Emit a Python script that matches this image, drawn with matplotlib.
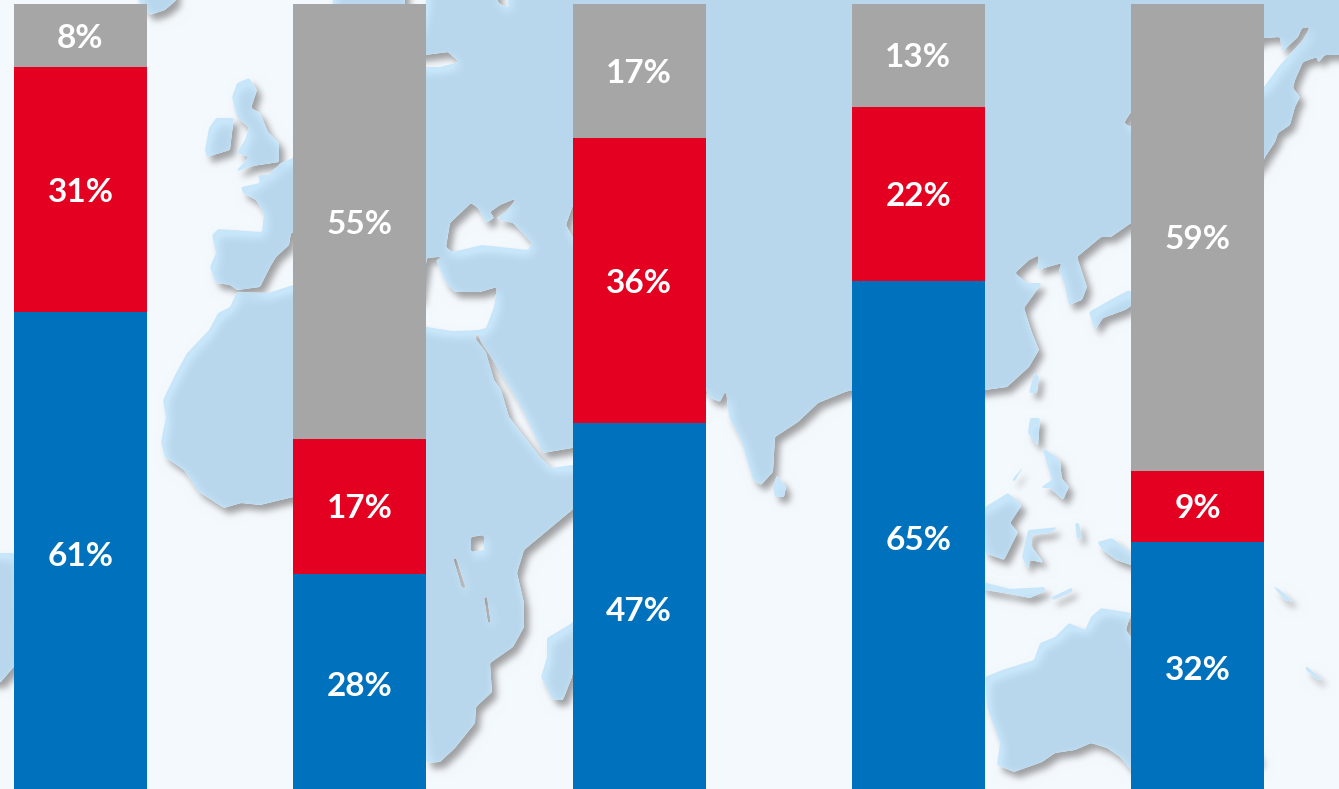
import numpy as np
import matplotlib
matplotlib.use('Agg')
import matplotlib.pyplot as plt

W, H = 1339, 789
DPI = 100

# values of the stacked bars, percent
blue = [61, 28, 47, 65, 32]
red = [31, 17, 36, 22, 9]
grey = [8, 55, 17, 13, 59]

# ---- background map, traced in image pixels (decoration only) ----
land = [
    # Eurasia
    [(335, -9), (1348, -9), (1348, 55), (1325, 55), (1318, 63), (1317, 57), (1303, 62), (1295, 80), (1293, 88),
     (1300, 97), (1295, 107), (1290, 125), (1278, 133), (1275, 142), (1265, 157), (1264, 160), (1200, 240),
     (1131, 223),
     (1111, 237), (1101, 237), (1077, 257), (1087, 287), (1082, 300), (1069, 305), (1064, 283), (1059, 270),
     (1062, 263), (1037, 270), (1039, 255), (1029, 260), (1015, 273), (1027, 283), (1042, 283), (1024, 308),
     (1032, 333), (1039, 350), (1029, 367), (1007, 387), (985, 390), (920, 400), (852, 390), (845, 392),
     (818, 403), (798, 422), (775, 437), (773, 472), (761, 485), (753, 480), (741, 440), (729, 417), (726, 390),
     (720, 402), (708, 397), (706, 388), (640, 390), (620, 440), (572, 448), (543, 453), (524, 413), (513, 393),
     (497, 367), (488, 352), (480, 340), (478, 330), (486, 328), (494, 307), (497, 287), (480, 292), (455, 292),
     (446, 283), (436, 260), (448, 256), (427, 258), (420, 300), (380, 300), (350, 270), (293, 232), (291, 233),
     (289, 245), (276, 257), (270, 267), (260, 287), (237, 290), (230, 285), (216, 283), (210, 267), (216, 253),
     (212, 235), (218, 229), (262, 232), (264, 213), (256, 200), (243, 193), (241, 187), (260, 183), (258, 175),
     (268, 175), (281, 163), (293, 158), (320, 60)],
    # Africa
    [(293, 285), (268, 293), (237, 292), (230, 307), (218, 313), (209, 330), (187, 353), (176, 373), (163, 400),
     (166, 417), (161, 442), (165, 457), (184, 470), (199, 492), (224, 508), (241, 503), (260, 505), (293, 497),
     (340, 520), (400, 600), (427, 763), (440, 762), (455, 748), (475, 723), (476, 707), (492, 692), (490, 663),
     (513, 647), (524, 627), (524, 603), (517, 573), (524, 550), (572, 510), (600, 470), (572, 465), (551, 468),
     (540, 457), (509, 417), (501, 390), (494, 380), (486, 353), (475, 338), (480, 330), (452, 331), (427, 327),
     (360, 310)],
    # Great Britain, Ireland, Madagascar, Sri Lanka
    [(249, 78), (257, 90), (251, 108), (260, 113), (268, 132), (279, 143), (279, 162), (253, 166), (235, 172),
     (249, 157), (237, 153), (245, 140), (249, 128), (237, 117), (232, 97), (237, 83)],
    [(216, 118), (234, 118), (232, 133), (230, 150), (207, 157), (205, 150), (209, 128)],
    [(547, 638), (572, 623), (585, 600), (572, 677), (563, 700), (553, 700), (541, 677), (547, 657)],
    [(773, 487), (777, 475), (786, 487), (784, 497), (775, 497)],
    # Iceland, South America edge
    [(130, -9), (187, -9), (165, 10), (150, 15)],
    [(-9, 553), (14, 553), (20, 660), (11, 670), (0, 683), (-9, 690)],
    # Kyushu and Honshu
    [(1129, 290), (1110, 300), (1089, 312), (1095, 330), (1103, 318), (1125, 310), (1140, 300)],
    # Taiwan, SE Asia
    [(1029, 393), (1034, 373), (1039, 376), (1037, 393)],
    [(1030, 418), (1040, 418), (1038, 447), (1028, 433)],
    [(1042, 447), (1060, 460), (1062, 480), (1052, 480)],
    [(1040, 488), (1059, 475), (1069, 487), (1063, 500), (1050, 488)],
    [(1012, 480), (1024, 465), (1022, 470), (1014, 482)],
    [(975, 510), (985, 507), (1008, 493), (1022, 505), (1010, 523), (1018, 532), (1004, 560), (985, 553)],
    [(1028, 530), (1059, 527), (1050, 533), (1032, 535), (1032, 547), (1044, 563), (1030, 560), (1028, 570),
     (1022, 557)],
    [(1075, 523), (1079, 523), (1082, 540), (1077, 538)],
    [(975, 580), (1010, 589), (1045, 587), (1045, 591), (1030, 598), (1010, 594), (985, 590)],
    [(1050, 598), (1073, 587), (1072, 592), (1054, 600)],
    [(1097, 542), (1112, 538), (1131, 553), (1190, 570), (1131, 565), (1116, 560), (1103, 550)],
    # Australia
    [(985, 677), (1002, 670), (1034, 660), (1040, 643), (1055, 637), (1069, 623), (1085, 630), (1091, 617),
     (1101, 608), (1131, 613), (1126, 630), (1140, 650), (1200, 640), (1260, 760), (1200, 800), (1131, 770),
     (1120, 757), (1107, 748), (1091, 743), (1075, 750), (1055, 753), (1042, 762), (1014, 772), (997, 765),
     (1000, 743), (987, 707)],
    # Pacific islands
    [(1270, 583), (1280, 590), (1295, 603), (1285, 600)],
    [(1305, 665), (1323, 680), (1318, 680), (1306, 670)],
]
# seas and lakes cut out of the land
water = [
    [(471, 203), (450, 223), (446, 247), (452, 252), (482, 245), (528, 250), (532, 243), (513, 223), (494, 218),
     (486, 223), (478, 208)],
    [(490, 212), (500, 205), (517, 198), (505, 213), (495, 219)],
    [(410, 57), (448, 52), (459, 62), (440, 67), (410, 67)],
    [(405, -9), (428, -9), (420, 30), (405, 30)],
    [(490, -9), (506, -9), (509, 8), (500, 4)],
    [(566, 225), (573, 205), (590, 215), (580, 250)],
    [(471, 537), (484, 535), (484, 550), (471, 552)],
    [(453, 558), (456, 558), (466, 588), (462, 588)],
    [(484, 597), (487, 597), (491, 623), (488, 623)],
    # sea of Japan
    [(1124, 123), (1131, 112), (1264, 38), (1280, 37), (1282, 52), (1298, 37), (1302, 28), (1310, 27), (1303, 40),
     (1280, 65), (1264, 87), (1131, 127)],
]


def blur(a, sigma):
    # plain separable gaussian, no scipy here
    r = int(3 * sigma)
    k = np.exp(-0.5 * (np.arange(-r, r + 1) / sigma) ** 2)
    k /= k.sum()
    a = np.apply_along_axis(lambda v: np.convolve(np.pad(v, r, mode='edge'), k, mode='valid'), 0, a)
    a = np.apply_along_axis(lambda v: np.convolve(np.pad(v, r, mode='edge'), k, mode='valid'), 1, a)
    return a


def shift(a, dx, dy):
    # move down and right, repeating the top and left edge
    p = np.pad(a, ((dy, 0), (dx, 0)), mode='edge')
    return p[:a.shape[0], :a.shape[1]]


def land_mask():
    fig = plt.figure(figsize=(W / DPI, H / DPI), dpi=DPI)
    ax = fig.add_axes([0, 0, 1, 1])
    ax.set_xlim(0, W)
    ax.set_ylim(H, 0)
    ax.axis('off')
    for poly in land:
        ax.fill(*zip(*poly), color='k', lw=0)
    for poly in water:
        ax.fill(*zip(*poly), color='w', lw=0)
    fig.canvas.draw()
    m = 1 - np.asarray(fig.canvas.buffer_rgba())[:, :, 0] / 255.0
    plt.close(fig)
    # round the corners of the traced outline a little
    return np.clip((blur(m, 1.1) - 0.5) * 3 + 0.5, 0, 1)


mask = land_mask()
shadow = blur(shift(mask, 5, 6), 3.4) * (1 - mask)
inner = np.clip((blur(shift(mask, 3, 5), 5.5) - 0.45) * 1.9, 0, 1)

sea_c = np.array([244, 249, 253.0])
shadow_c = np.array([150, 150, 152.0])
edge_c = np.array([200, 230, 250.0])
base_c = np.array([184, 215, 236.0])

land_col = edge_c[None, None] * (1 - inner[..., None]) + base_c[None, None] * inner[..., None]
sea_col = sea_c[None, None] * (1 - 0.9 * shadow[..., None]) + shadow_c[None, None] * 0.9 * shadow[..., None]
img = land_col * mask[..., None] + sea_col * (1 - mask[..., None])

# ---- chart ----
fig = plt.figure(figsize=(W / DPI, H / DPI), dpi=DPI)
bg = fig.add_axes([0, 0, 1, 1], zorder=0)
bg.imshow(img.astype(np.uint8), interpolation='nearest', aspect='auto')
bg.axis('off')

px = 7.91  # image pixels per percent, bars run on below the lower edge
ax = fig.add_axes([0, 0, 1, 1], zorder=1)
ax.patch.set_alpha(0)
ax.set_ylim(6 / px, 100 + 4 / px)
bar_w = 133 / 279.25
ax.set_xlim(-80.5 / 279.25, (W - 80.5) / 279.25)
ax.axis('off')

x = np.arange(len(blue))
bottom = np.zeros(len(blue))
for vals, col in [(blue, '#0071bc'), (red, '#e30020'), (grey, '#a6a6a6')]:
    ax.bar(x, vals, bar_w, bottom=bottom, color=col, linewidth=0)
    for xi, b, v in zip(x, bottom, vals):
        ax.text(xi, b + v / 2, f"{v}%", ha='center', va='center_baseline', color='white',
                fontsize=24, fontweight='bold', family=['Lato', 'DejaVu Sans'])
    bottom += vals

fig.savefig('out.png', dpi=DPI)
